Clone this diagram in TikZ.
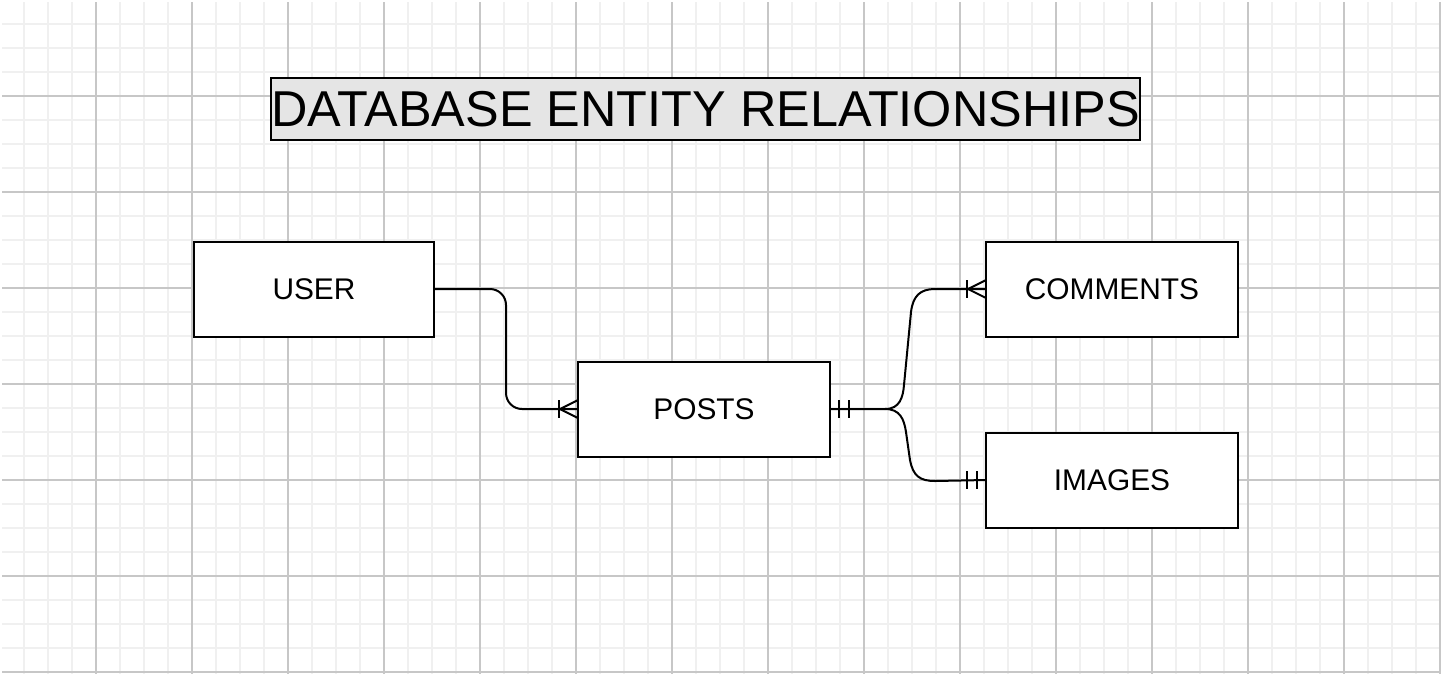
\documentclass[tikz,border=0pt]{standalone}
\usepackage{fontspec}
\setmainfont{Liberation Sans}
\usetikzlibrary{positioning}

\begin{document}
\begin{tikzpicture}[
            x=0.75pt, y=-0.75pt,
            font=\fontsize{22.4}{27}\selectfont,
            entity/.style={draw, line width=1.5pt, fill=white, outer sep=0pt,
            minimum height=71.25pt, minimum width=189pt,
            inner sep=2pt, align=center},
            titlebox/.style={draw, line width=1.5pt, fill=black!10,
            minimum height=46.5pt, minimum width=651.75pt,
            inner sep=0pt, font=\fontsize{37.8}{44}\selectfont},
            rel/.style={line width=1.5pt, black},
            minorgrid/.style={black!6, line width=1.1pt},
            majorgrid/.style={black!22, line width=0.8pt},
            manyend/.pic={
                \draw[rel] (-19,-9) -- (-19,9);
                \draw[rel] (0,-9) -- (-18,0) -- (0,9);
            },
            oneend/.pic={
                \draw[rel] (-19,-9) -- (-19,9);
                \draw[rel] (-9,-9) -- (-9,9);
            }
        ]
\useasboundingbox (0,0) rectangle (1442,676);
% background grid
            \foreach \gx in {24,48,...,1440} \draw[minorgrid] (\gx,2) -- (\gx,674);
            \foreach \gy in {24,48,...,672} \draw[minorgrid] (2,\gy) -- (1440,\gy);
            \foreach \gx in {96,192,...,1440} \draw[majorgrid] (\gx,2) -- (\gx,674);
            \foreach \gy in {96,192,...,672} \draw[majorgrid] (2,\gy) -- (1440,\gy);
% title
            \node[titlebox]                                 (title)    at (705.5,109) {DATABASE ENTITY RELATIONSHIPS};
% entities
            \node[entity, minimum width=180pt]              (user)     at (314,289)   {USER};
            \node[entity, below right=18.75pt and 108pt of user] (posts) {POSTS};
            \node[entity, above right=18.75pt and 117pt of posts] (comments) {COMMENTS};
            \node[entity, below=72pt of comments]           (images)   {IMAGES};
% user -- posts
            \draw[rel, rounded corners=12pt] (user.east) -- ++(72,0) |- (posts.west);
% posts -- comments
            \draw[rel] (posts.east) -- (885,409)
                .. controls (900,409) and (903,397) .. (904,385) -- (911,312)
                .. controls (913,296) and (920,289) .. (935,289) -- (comments.west);
% posts -- images
            \draw[rel] (885,409)
                .. controls (900,409) and (904,419) .. (906,432) -- (910,460)
                .. controls (913,476) and (920,481) .. (935,481) -- (images.west);
% cardinality marks
            \pic at (posts.west)           {manyend};
            \pic at (comments.west)        {manyend};
            \pic at (images.west)          {oneend};
            \pic[xscale=-1] at (posts.east) {oneend};
        \end{tikzpicture}
\end{document}
